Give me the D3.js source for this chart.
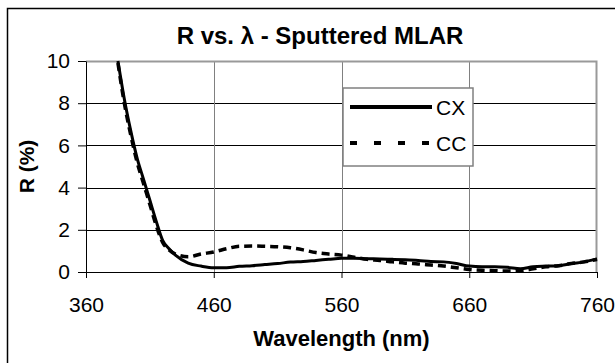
<!DOCTYPE html>
<html>
<head>
<meta charset="utf-8">
<script src="https://cdn.jsdelivr.net/npm/d3@7"></script>
<style>
  body { margin: 0; background: #fff; }
  text { font-family: 'Liberation Sans', Arial, sans-serif; }
</style>
</head>
<body>
<div id="chart"></div>
<script>
// wavelength (nm)
const wavelengths = [385, 390, 395, 400, 405, 410, 415, 420, 425, 430, 440, 450, 460, 470, 480, 490, 500,
  510, 520, 530, 540, 550, 560, 570, 580, 590, 600, 610, 620, 630, 640, 650, 660, 670, 680, 690,
  700, 710, 720, 730, 740, 750, 760]
// reflectance R (%)
const cxValues = [10, 8.2, 6.7, 5.4, 4.4, 3.4, 2.4, 1.5, 1.1, 0.8, 0.42, 0.28, 0.2, 0.2, 0.27, 0.3, 0.35,
  0.4, 0.47, 0.5, 0.55, 0.6, 0.65, 0.65, 0.63, 0.62, 0.6, 0.58, 0.55, 0.5, 0.48, 0.4, 0.28, 0.25, 0.25, 0.22,
  0.15, 0.25, 0.28, 0.3, 0.4, 0.48, 0.62]
const ccValues = [9.9, 8.0, 6.5, 5.2, 4.2, 3.2, 2.2, 1.4, 1.05, 0.85, 0.72, 0.85, 0.95, 1.1, 1.22, 1.23, 1.22,
  1.2, 1.15, 1.05, 0.92, 0.85, 0.8, 0.7, 0.6, 0.55, 0.48, 0.42, 0.38, 0.33, 0.28, 0.2, 0.12, 0.08, 0.06, 0.05,
  0.06, 0.15, 0.25, 0.3, 0.4, 0.48, 0.6]
const seriesNames = ['CX', 'CC']
const xTicks = [360, 460, 560, 660, 760]
const yTicks = [0, 2, 4, 6, 8, 10]

const W = 615
const H = 363
const margin = { top: 61, right: 18, bottom: 91, left: 86 }
const width = W - margin.left - margin.right
const height = H - margin.top - margin.bottom
const font = "'Liberation Sans', Arial, sans-serif"

const svg = d3.select('#chart').append('svg').attr('width', W).attr('height', H)

// outer chart border (right/bottom fall outside the picture)
svg.append('rect')
  .attr('x', 7.5).attr('y', 8.5)
  .attr('width', W).attr('height', H)
  .attr('fill', 'none').attr('stroke', '#000').attr('stroke-width', 1.5)

const g = svg.append('g').attr('transform', `translate(${margin.left},${margin.top})`)

const x = d3.scaleLinear().domain([360, 760]).range([0, width])
const y = d3.scaleLinear().domain([0, 10]).range([height, 0])

// gridlines
g.selectAll('.hgrid').data(yTicks.slice(1, -1)).join('line')
  .attr('x1', 0).attr('x2', width)
  .attr('y1', (d) => Math.round(y(d)) + 0.5).attr('y2', (d) => Math.round(y(d)) + 0.5)
  .attr('stroke', '#000')
g.selectAll('.vgrid').data(xTicks.slice(1, -1)).join('line')
  .attr('y1', 0).attr('y2', height)
  .attr('x1', (d) => Math.round(x(d)) + 0.5).attr('x2', (d) => Math.round(x(d)) + 0.5)
  .attr('stroke', '#808080')

// plot area border top/right
g.append('path')
  .attr('d', `M0,0.5H${width - 0.5}V${height}`)
  .attr('fill', 'none').attr('stroke', '#999').attr('stroke-width', 2)

// axes
const xAxis = g.append('g')
  .attr('transform', `translate(0,${height})`)
  .call(d3.axisBottom(x).tickValues(xTicks).tickSize(6).tickPadding(19).tickSizeOuter(0))
const yAxis = g.append('g')
  .call(d3.axisLeft(y).tickValues(yTicks).tickSize(8).tickPadding(8).tickSizeOuter(0))
;[xAxis, yAxis].forEach((a) => {
  a.select('.domain').attr('stroke', '#000')
  a.selectAll('line').attr('stroke', '#000')
  a.selectAll('text').attr('font-size', 21).attr('fill', '#000').attr('font-family', font)
})

// series
const line = d3.line().x((d) => x(d[0])).y((d) => y(d[1])).curve(d3.curveMonotoneX)
const cx = wavelengths.map((w, i) => [w, cxValues[i]])
const cc = wavelengths.map((w, i) => [w, ccValues[i]])

g.append('path').datum(cc)
  .attr('fill', 'none').attr('stroke', '#000').attr('stroke-width', 3.5)
  .attr('stroke-dasharray', '8,5').attr('d', line)
g.append('path').datum(cx)
  .attr('fill', 'none').attr('stroke', '#000').attr('stroke-width', 3)
  .attr('stroke-linejoin', 'round').attr('d', line)

// legend
const legend = svg.append('g').attr('transform', 'translate(343,88)')
legend.append('rect')
  .attr('x', 0).attr('y', 0).attr('width', 130).attr('height', 78)
  .attr('fill', '#fff').attr('stroke', '#808080').attr('stroke-width', 1.5)
seriesNames.forEach((name, i) => {
  const ly = 19 + i * 36
  legend.append('line')
    .attr('x1', 7).attr('x2', 89).attr('y1', ly).attr('y2', ly)
    .attr('stroke', '#000').attr('stroke-width', 4)
    .attr('stroke-dasharray', i === 1 ? '7,17' : null)
  legend.append('text')
    .attr('x', 93).attr('y', ly + 8)
    .attr('font-size', 21).text(name)
})

// titles
svg.append('text')
  .attr('x', 320).attr('y', 44)
  .attr('text-anchor', 'middle').attr('font-size', 24).attr('font-weight', 'bold')
  .text('R vs. λ - Sputtered MLAR')
svg.append('text')
  .attr('x', margin.left + width / 2).attr('y', 346)
  .attr('text-anchor', 'middle').attr('font-size', 22).attr('font-weight', 'bold')
  .text('Wavelength (nm)')
svg.append('text')
  .attr('transform', `translate(34,${margin.top + height / 2}) rotate(-90)`)
  .attr('text-anchor', 'middle').attr('font-size', 21).attr('font-weight', 'bold')
  .text('R (%)')
</script>
</body>
</html>
